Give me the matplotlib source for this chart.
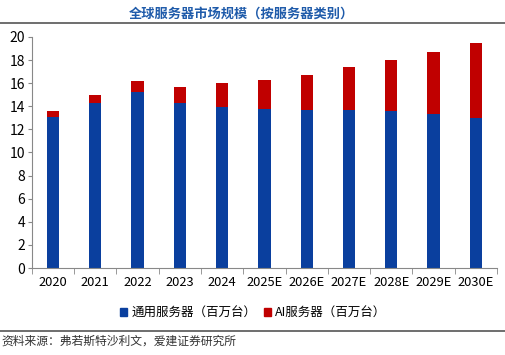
import matplotlib
matplotlib.use("Agg")
import matplotlib.pyplot as plt
from matplotlib.lines import Line2D
from matplotlib.patches import Patch
import numpy as np

plt.rcParams['font.family'] = ['Noto Sans CJK SC', 'DejaVu Sans']

categories = ["2020", "2021", "2022", "2023", "2024", "2025E", "2026E", "2027E", "2028E", "2029E", "2030E"]
general = [13.1, 14.3, 15.2, 14.3, 13.95, 13.8, 13.7, 13.7, 13.6, 13.35, 13.0]
total = [13.6, 15.0, 16.2, 15.7, 16.0, 16.3, 16.7, 17.4, 18.0, 18.7, 19.5]
ai = [t - g for t, g in zip(total, general)]
yticks = [0, 2, 4, 6, 8, 10, 12, 14, 16, 18, 20]

title = "全球服务器市场规模（按服务器类别）"
legend_labels = ["通用服务器（百万台）", "AI服务器（百万台）"]
source = "资料来源：弗若斯特沙利文，爱建证券研究所"

blue = "#0A3F9E"
red = "#C00000"

fig = plt.figure(figsize=(5.06, 3.55), dpi=100)
ax = fig.add_axes([0.063, 0.245, 0.919, 0.651])
x = np.arange(len(categories))
ax.bar(x, general, width=0.29, color=blue)
ax.bar(x, ai, bottom=general, width=0.29, color=red)

ax.set_ylim(0, 20)
ax.set_xlim(-0.5, len(categories) - 0.5)
ax.set_yticks(yticks)
ax.tick_params(axis='y', labelsize=10, length=3, color="#888888", pad=2)
ax.set_xticks(x)
ax.set_xticklabels(categories, fontsize=9.3)
ax.tick_params(axis='x', length=0, pad=6)
ax.set_xticks(np.arange(len(categories) + 1) - 0.5, minor=True)
ax.tick_params(axis='x', which='minor', length=4, color="#888888")
for s in ["top", "right"]:
    ax.spines[s].set_visible(False)
for s in ["left", "bottom"]:
    ax.spines[s].set_color("#888888")
    ax.spines[s].set_linewidth(0.8)

fig.text(0.478, 0.962, title, ha='center', va='center', fontsize=9.5,
         fontweight='bold', color="#1F5BAA")
fig.add_artist(Line2D([0.0, 1.0], [0.934, 0.934], color="#555555", lw=1.2))
fig.add_artist(Line2D([0.0, 1.0], [0.067, 0.067], color="#555555", lw=1.2))

handles = [Patch(color=blue), Patch(color=red)]
fig.legend(handles, legend_labels, loc='center', bbox_to_anchor=(0.5, 0.118),
           ncol=2, frameon=False, fontsize=9, handlelength=0.6, handleheight=0.6,
           handletextpad=0.3, columnspacing=0.6)

fig.text(0.003, 0.038, source, ha='left', va='center', fontsize=8.5, color="#333333")

fig.savefig("out.png", dpi=100)
